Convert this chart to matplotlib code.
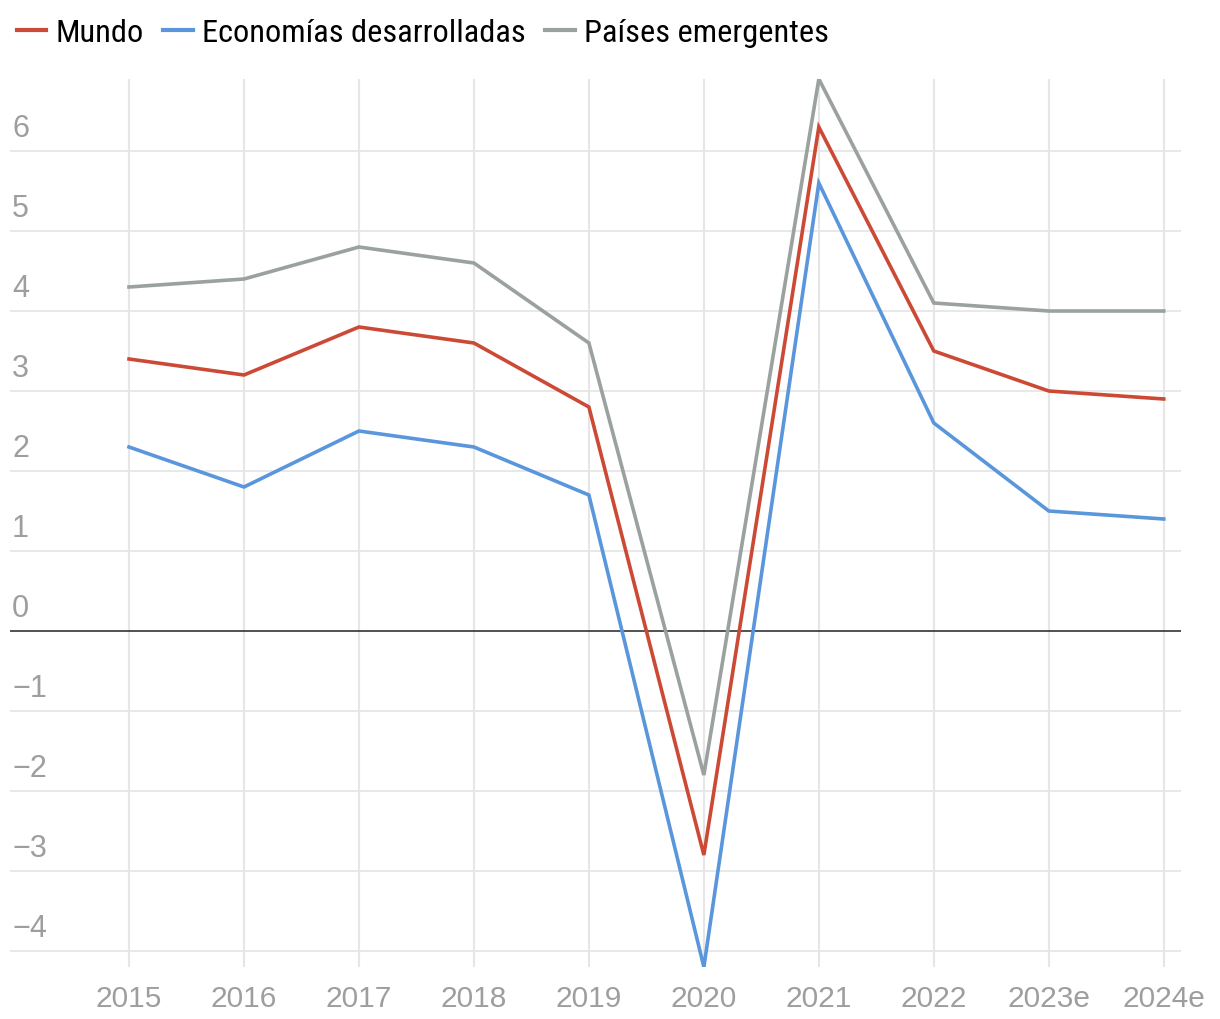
import matplotlib.pyplot as plt
import matplotlib.transforms as mtransforms
from matplotlib.lines import Line2D

# ----------------------------------------
# DATA
# ----------------------------------------
years = ["2015", "2016", "2017", "2018", "2019", "2020", "2021", "2022", "2023e", "2024e"]
mundo = [3.4, 3.2, 3.8, 3.6, 2.8, -2.8, 6.3, 3.5, 3.0, 2.9]
desarrolladas = [2.3, 1.8, 2.5, 2.3, 1.7, -4.2, 5.6, 2.6, 1.5, 1.4]
emergentes = [4.3, 4.4, 4.8, 4.6, 3.6, -1.8, 6.9, 4.1, 4.0, 4.0]
y_ticks = [-4, -3, -2, -1, 0, 1, 2, 3, 4, 5, 6]

series_names = ["Mundo", "Economías desarrolladas", "Países emergentes"]
colors = ["#cc4a35", "#5a96dc", "#9aa19e"]

# ----------------------------------------
# FIGURE
# ----------------------------------------
plt.rcParams["font.family"] = ["Liberation Sans", "DejaVu Sans"]

fig = plt.figure(figsize=(12.2, 10.2), dpi=100)
ax = fig.add_axes([10 / 1220, 1 - 968 / 1020, (1181 - 10) / 1220, (968 - 80) / 1020])

x = list(range(len(years)))
# grey first so red and blue sit on top
for vals, c in [(emergentes, colors[2]), (desarrolladas, colors[1]), (mundo, colors[0])]:
    ax.plot(x, vals, color=c, lw=2.6, solid_joinstyle="miter", zorder=3)

ax.set_xlim(-1.035, 9.15)
ax.set_ylim(-4.2, 6.9)

grid_c = "#e6e6e6"
for yv in y_ticks:
    if yv == 0:
        ax.axhline(0, color="#333333", lw=1.2, zorder=2)
    else:
        ax.axhline(yv, color=grid_c, lw=1.3, zorder=1)
for xv in x:
    ax.axvline(xv, color=grid_c, lw=1.5, zorder=1)

# y labels sit inside the plot, above each gridline
offset = mtransforms.ScaledTranslation(1.5 / 72, 5.5 / 72, fig.dpi_scale_trans)
trans = mtransforms.blended_transform_factory(ax.transAxes, ax.transData) + offset
for yv in y_ticks:
    lab = str(yv).replace("-", "\u2212")
    ax.text(0, yv, lab, transform=trans, ha="left", va="bottom",
            fontsize=22, color="#9e9e9e")

ax.set_yticks([])
ax.set_xticks(x)
ax.set_xticklabels(years, fontsize=21.5, color="#9e9e9e")
ax.tick_params(axis="x", length=0, pad=12)

for s in ax.spines.values():
    s.set_visible(False)

# ----------------------------------------
# LEGEND
# ----------------------------------------
handles = [Line2D([0], [0], color=c, lw=3) for c in colors]
fig.legend(handles, series_names, loc="upper left", bbox_to_anchor=(-0.002, 1.0),
           ncol=3, frameon=False, handlelength=0.9, handletextpad=0.3,
           columnspacing=0.6, borderaxespad=0.2,
           prop={"family": ["Liberation Sans Narrow", "Roboto Condensed", "Liberation Sans"], "size": 23.3})

fig.savefig("out.png", dpi=100)
